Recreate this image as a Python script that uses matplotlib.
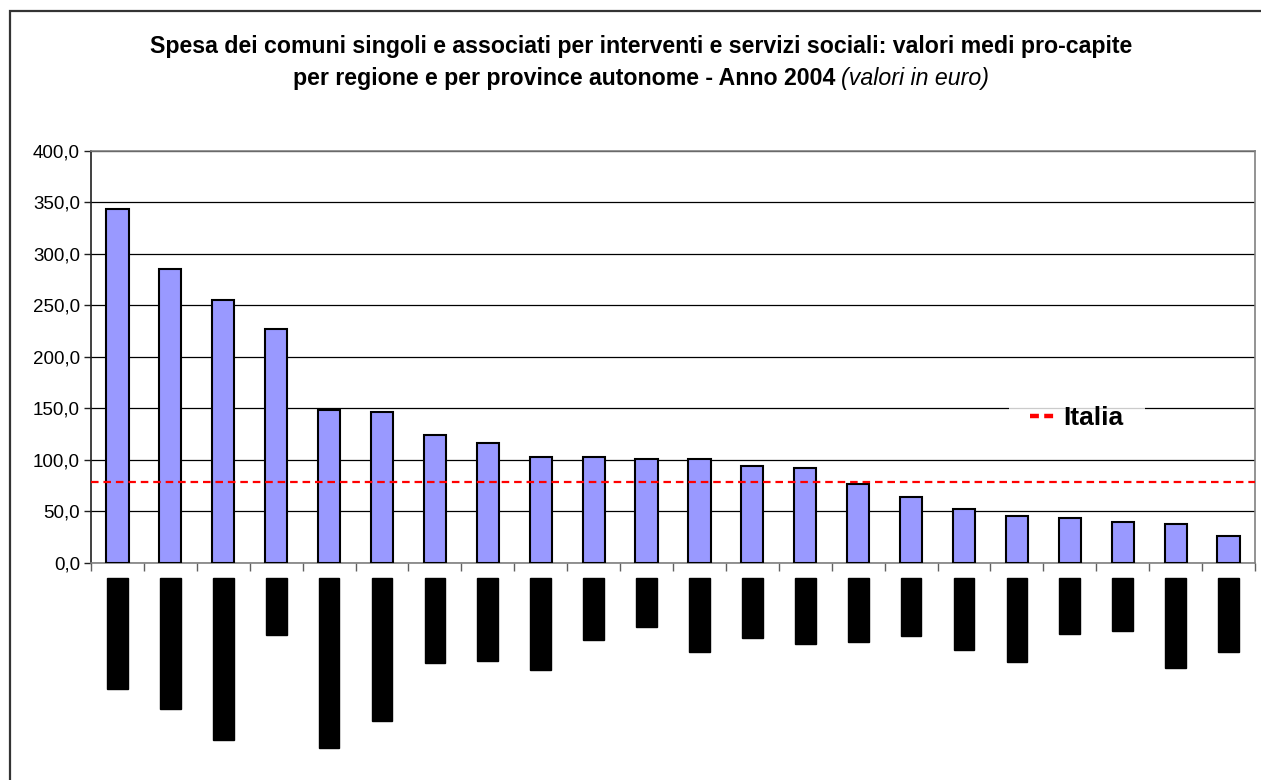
import matplotlib
matplotlib.use("Agg")
import matplotlib.pyplot as plt
from matplotlib.lines import Line2D
from matplotlib.patches import Rectangle
from matplotlib.ticker import FuncFormatter
import numpy as np

plt.rcParams['font.family'] = ['Liberation Sans', 'DejaVu Sans']

# Spesa pro-capite (euro) per regione / provincia autonoma, anno 2004
regioni = ["Valle d'Aosta", "Bolzano-Bozen", "Trentino-Alto Adige", "Trento",
           "Friuli-Venezia Giulia", "Emilia-Romagna", "Sardegna", "Piemonte",
           "Lombardia", "Veneto", "Lazio", "Toscana", "Liguria", "Marche",
           "Umbria", "Molise", "Abruzzo", "Basilicata", "Puglia", "Sicilia",
           "Campania", "Calabria"]
spesa = [343.0, 285.0, 255.0, 227.0, 148.0, 146.0, 124.0, 116.0, 103.0, 103.0,
         101.0, 101.0, 93.5, 92.0, 76.5, 63.5, 52.5, 45.0, 43.0, 39.5, 37.5, 26.2]
media_italia = 78.2
yticks = [0, 50, 100, 150, 200, 250, 300, 350, 400]

W, H = 1261, 780
fig = plt.figure(figsize=(W / 100, H / 100), dpi=100)

# outer chart frame
fig.patches.append(Rectangle((10 / W, -0.05), 1.2, 1.05 - 11 / H,
                             transform=fig.transFigure, fill=False,
                             edgecolor='#333333', linewidth=1.6))

ax_l, ax_r, ax_t, ax_b = 91, 1255, 150.7, 562.7
ax = fig.add_axes([ax_l / W, 1 - ax_b / H, (ax_r - ax_l) / W, (ax_b - ax_t) / H])

x = np.arange(len(regioni))
ax.bar(x, spesa, width=0.42, color='#9999FF', edgecolor='black',
       linewidth=1.5, zorder=3)
ax.axhline(media_italia, color='#FF0000', linestyle=(0, (3.4, 2.2)),
           linewidth=1.6, zorder=4)

ax.set_xlim(-0.5, len(regioni) - 0.5)
ax.set_ylim(yticks[0], yticks[-1])
ax.set_yticks(yticks)
ax.yaxis.set_major_formatter(FuncFormatter(lambda v, p: f"{v:.1f}".replace('.', ',')))
ax.grid(axis='y', color='black', linewidth=0.9, zorder=0)

for side in ['top', 'right', 'bottom']:
    ax.spines[side].set_color('#808080')
ax.spines['left'].set_color('#202020')
for s in ax.spines.values():
    s.set_linewidth(1.2)

ax.tick_params(axis='y', direction='out', length=5, width=1, color='#202020',
               pad=3, labelsize=13.5, labelcolor='black')

# category boundaries as tick marks, names as rotated labels
ax.set_xticks(x)
ax.set_xticks(np.arange(-0.5, len(regioni) + 0.5, 1), minor=True)
ax.tick_params(axis='x', which='minor', direction='out', length=6, width=1,
               color='#606060')
ax.tick_params(axis='x', which='major', length=0, pad=12.5)
ax.set_xticklabels(regioni, rotation=90, fontsize=13.5, color='black')
for lab in ax.get_xticklabels():
    lab.set_bbox(dict(boxstyle='square,pad=0.1', facecolor='black',
                      edgecolor='black'))

# legend
leg = ax.legend(handles=[Line2D([], [], color='#FF0000', linewidth=3.2,
                                linestyle=(0, (2.0, 1.2)))],
                labels=['Italia'], loc='center',
                bbox_to_anchor=((1077 - ax_l) / (ax_r - ax_l), (ax_b - 418) / (ax_b - ax_t)),
                prop={'weight': 'bold', 'size': 19}, handlelength=1.0,
                handletextpad=0.25, frameon=True, fancybox=False,
                borderpad=0.8, borderaxespad=0)
leg.get_frame().set_facecolor('white')
leg.get_frame().set_edgecolor('none')
leg.set_zorder(5)

# title (two lines, second with italic unit note)
TS = 16.7
fig.text(641 / W, 1 - 47 / H, "Spesa dei comuni singoli e associati per interventi e servizi sociali: valori medi pro-capite",
         ha='center', va='center', fontsize=TS, fontweight='bold')
fig.canvas.draw()
r = fig.canvas.get_renderer()
t1 = fig.text(0, 1 - 78 / H, "per regione e per province autonome - Anno 2004 ",
              ha='left', va='center', fontsize=TS, fontweight='bold')
t2 = fig.text(0, 1 - 78 / H, "(valori in euro)", ha='left', va='center',
              fontsize=TS, fontstyle='italic')
w1 = t1.get_window_extent(r).width
w2 = t2.get_window_extent(r).width
x0 = 641 - (w1 + w2) / 2
t1.set_x(x0 / W)
t2.set_x((x0 + w1) / W)

fig.savefig("out.png", dpi=100)
